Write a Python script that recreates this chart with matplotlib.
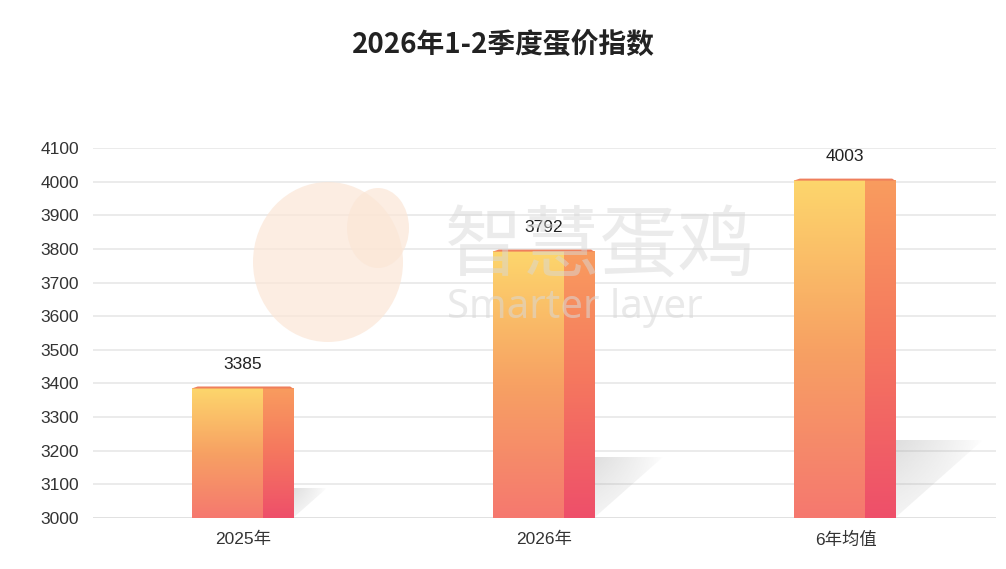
import numpy as np
import matplotlib
matplotlib.use("Agg")
import matplotlib.pyplot as plt
from matplotlib.colors import LinearSegmentedColormap
from matplotlib.patches import Polygon, Ellipse

plt.rcParams['font.family'] = ['Liberation Sans', 'Noto Sans CJK SC', 'DejaVu Sans']

categories = ['2025年', '2026年', '6年均值']
values = [3385, 3792, 4003]
title = '2026年1-2季度蛋价指数'
y_ticks = list(range(3000, 4101, 100))

base = 3000
front_cmap = LinearSegmentedColormap.from_list('front', ['#f5786f', '#f7a163', '#fdd66c'])
side_cmap = LinearSegmentedColormap.from_list('side', ['#ee4f6a', '#f5765f', '#f99c5e'])
grad = np.linspace(0, 1, 256).reshape(-1, 1)

fig = plt.figure(figsize=(10.06, 5.69), dpi=100)
ax = fig.add_axes([93 / 1006, 51 / 569, 903 / 1006, 370 / 569])

# soft shadow texture
xs = np.linspace(0, 1, 80)
ys = np.linspace(0, 1, 40)
XX, YY = np.meshgrid(xs, ys)
shadow = np.zeros((40, 80, 4))
shadow[..., :3] = 0.6
shadow[..., 3] = 0.32 * (1 - XX) ** 0.8 * (0.35 + 0.65 * YY)

for i, v in enumerate(values):
    x0, xm, x1 = i - 0.172, i + 0.065, i + 0.165
    h = v - base
    # shadow behind the bar
    sh = 0.23 * h
    dx = 0.29 * h / 1000
    poly = Polygon([(x1, base), (x1, base + sh), (x1 + dx, base + sh)],
                   closed=True, facecolor='none', edgecolor='none')
    ax.add_patch(poly)
    im = ax.imshow(shadow, extent=[x1, x1 + dx, base, base + sh], origin='lower',
                   aspect='auto', zorder=1, interpolation='bilinear')
    im.set_clip_path(poly)
    # front face
    ax.imshow(grad, extent=[x0, xm, base, v], origin='lower', aspect='auto',
              cmap=front_cmap, zorder=2, interpolation='bilinear')
    # side face
    ax.imshow(grad, extent=[xm, x1, base, v], origin='lower', aspect='auto',
              cmap=side_cmap, zorder=2, interpolation='bilinear')
    # top cap
    cap = Polygon([(x0, v), (x0 + 0.02, v + 6), (x1 - 0.01, v + 6), (x1, v)],
                  closed=True, facecolor='#ef7f5c', edgecolor='none', zorder=3)
    ax.add_patch(cap)
    ax.text(i - 0.002, v + 50, str(v), ha='center', va='bottom', fontsize=12.5,
            color='#222222', zorder=5)

ax.set_xlim(-0.5, 2.5)
ax.set_ylim(base, 4100)
ax.set_yticks(y_ticks)
ax.set_yticklabels([str(t) for t in y_ticks], fontsize=12.5, color='#333333')
ax.set_xticks(range(len(categories)))
ax.set_xticklabels(categories, fontsize=12.5, color='#333333')
ax.tick_params(length=0, pad=10)
ax.tick_params(axis='x', pad=10)
for s in ax.spines.values():
    s.set_visible(False)
ax.set_axisbelow(True)
ax.grid(axis='y', color='#e6e6e6', linewidth=1.1, zorder=0)
ax.axhline(base, color='#cccccc', linewidth=1.2, zorder=0.5)

fig.text(0.5, 1 - 45 / 569, title, ha='center', va='center', fontsize=20,
         fontweight='bold', color='#222222', family=['Noto Sans CJK SC'])

# watermark
egg = Ellipse((328 / 1006, 1 - 262 / 569), 150 / 1006, 160 / 569,
              transform=fig.transFigure, facecolor='#fbe6d6', edgecolor='none',
              alpha=0.7, zorder=10)
fig.patches.append(egg)
head = Ellipse((378 / 1006, 1 - 228 / 569), 62 / 1006, 80 / 569,
               transform=fig.transFigure, facecolor='#fbe6d6', edgecolor='none',
               alpha=0.7, zorder=10)
fig.patches.append(head)
fig.text(600 / 1006, 1 - 248 / 569, '智慧蛋鸡', ha='center', va='center',
         fontsize=56, color='#d8d8d8', alpha=0.5, family=['Noto Sans CJK SC'], zorder=11)
fig.text(575 / 1006, 1 - 308 / 569, 'Smarter layer', ha='center', va='center',
         fontsize=29, color='#d8d8d8', alpha=0.55, family=['Noto Sans'], zorder=11)

fig.savefig('out.png', dpi=100)
